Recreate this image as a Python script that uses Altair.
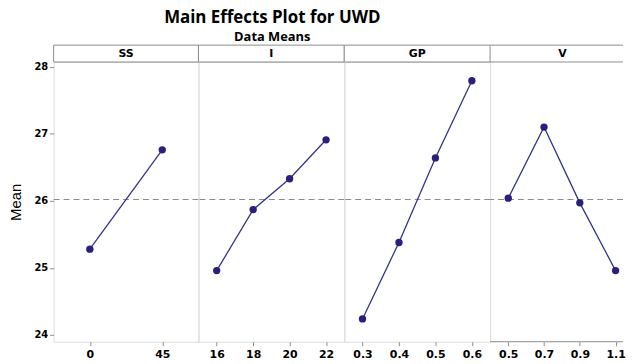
import altair as alt
import pandas as pd

# Factor names and levels
factors = ["SS", "I", "GP", "V"]
levels = {
    "SS": ["0", "45"],
    "I": ["16", "18", "20", "22"],
    "GP": ["0.3", "0.4", "0.5", "0.6"],
    "V": ["0.5", "0.7", "0.9", "1.1"],
}
# Mean UWD at each level
means = {
    "SS": [25.28, 26.76],
    "I": [24.96, 25.87, 26.33, 26.91],
    "GP": [24.24, 25.38, 26.64, 27.79],
    "V": [26.04, 27.10, 25.97, 24.96],
}
grand_mean = 26.02
y_ticks = [24, 25, 26, 27, 28]

# the last panel is cut by the picture's right edge
widths = [146, 147, 147, 134]
HEIGHT = 282
LINE_COLOR = "#33338a"
POINT_COLOR = "#2b1f7e"
FRAME = "#8c8c8c"
LABEL_FONT = "DejaVu Sans"

ydom = [23.9, 28.07]

panels = []
for i, f in enumerate(factors):
    w = widths[i]
    last = i == len(factors) - 1
    df = pd.DataFrame({"level": levels[f], "mean": means[f]})
    one = pd.DataFrame({"factor": [f], "ref": [grand_mean]})

    if i == 0:
        yaxis = alt.Axis(
            values=y_ticks, title="Mean", grid=False, domain=False,
            tickColor=FRAME, tickSize=4, labelFont=LABEL_FONT, labelFontWeight="bold",
            labelFontSize=10, labelColor="black", labelPadding=2,
            titleFont="Liberation Sans", titleFontSize=15, titleFontWeight="normal",
            titleColor="black", titlePadding=10,
        )
    else:
        yaxis = None

    if last:
        xscale = alt.Scale(range=[18.3, 126.5], padding=0)
    else:
        xscale = alt.Scale(paddingOuter=0.5)

    xenc = alt.X(
        "level:O", sort=levels[f], scale=xscale,
        axis=alt.Axis(title=None, labelAngle=0, domain=False, tickColor=FRAME,
                      tickSize=4, labelFont=LABEL_FONT, labelFontWeight="bold",
                      labelFontSize=11, labelColor="black", labelPadding=3),
    )
    yenc = alt.Y("mean:Q", scale=alt.Scale(domain=ydom, nice=False, zero=False), axis=yaxis)

    base = alt.Chart(df)
    line = base.mark_line(color=LINE_COLOR, strokeWidth=1.3).encode(x=xenc, y=yenc)
    pts = base.mark_point(filled=True, color=POINT_COLOR, size=55, opacity=1, shape="circle").encode(x=xenc, y=yenc)
    rule = alt.Chart(one).mark_rule(color="#8a8a8a", strokeDash=[6, 4], strokeWidth=1).encode(
        y=alt.Y("ref:Q", scale=alt.Scale(domain=ydom, nice=False, zero=False), axis=yaxis)
    )
    cx = 73 if last else w / 2
    label = alt.Chart(one).mark_text(font=LABEL_FONT, fontWeight="bold", fontSize=11,
                                     color="black", baseline="middle").encode(
        x=alt.value(cx), y=alt.value(-8.5), text="factor:N"
    )
    if not last:
        strip = alt.Chart(one).mark_rect(fill="white", stroke=FRAME, strokeWidth=1).encode(
            x=alt.value(0), x2=alt.value(w), y=alt.value(-17), y2=alt.value(0)
        )
        panel = alt.layer(rule, line, pts, strip, label).properties(width=w, height=HEIGHT)
    else:
        # open on the right: the panel continues past the picture's edge
        hlines = [
            alt.Chart(one).mark_rule(color=FRAME, strokeWidth=1).encode(
                x=alt.value(0), x2=alt.value(w), y=alt.value(yy)
            )
            for yy in (-17, 0, HEIGHT)
        ]
        panel = alt.layer(rule, line, pts, *hlines, label).properties(
            width=w, height=HEIGHT, view=alt.ViewBackground(strokeOpacity=0)
        )
    panels.append(panel)

chart = alt.hconcat(*panels, spacing=0, bounds="flush").resolve_scale(x="independent").properties(
    title=alt.TitleParams(
        text="Main Effects Plot for UWD",
        subtitle="Data Means",
        font="Open Sans", fontSize=17, fontWeight="bold", color="black",
        subtitleFont="Open Sans", subtitleFontSize=13, subtitleFontWeight="bold",
        subtitleColor="black", subtitlePadding=4, anchor="middle", offset=-1, dx=-45,
    ),
    padding={"left": 0, "top": 0, "right": 0, "bottom": 0},
).configure_view(stroke=FRAME, strokeWidth=1).configure(background="white")

chart.save("out.html", embed_options={"renderer": "svg", "actions": False})
